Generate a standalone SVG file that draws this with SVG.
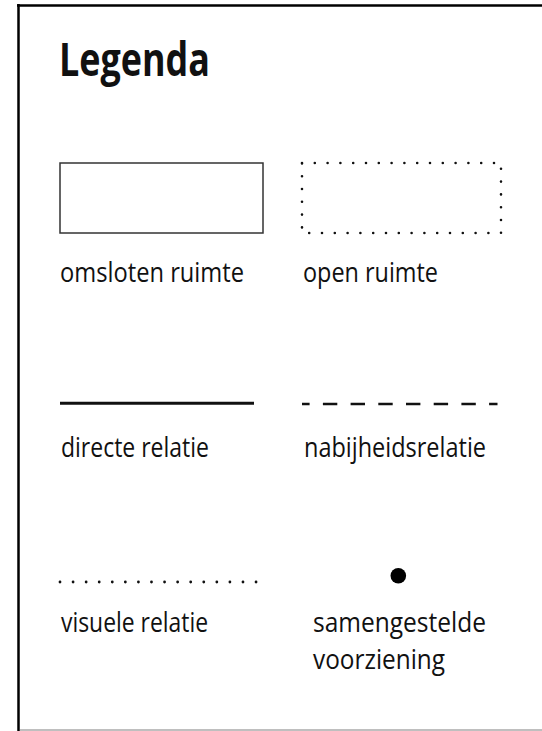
<svg xmlns="http://www.w3.org/2000/svg" width="542" height="731" viewBox="0 0 542 731">
<style>
text{font-family:"Open Sans","Noto Sans","Liberation Sans",sans-serif;fill:#111;}
.lbl{font-size:28px;}
.ttl{font-size:47px;font-weight:bold;}
</style>
<rect x="0" y="0" width="542" height="731" fill="#fff"/>
<g id="frame">
<line x1="18.5" y1="4" x2="18.5" y2="731" stroke="#000" stroke-width="2.5"/>
<line x1="17" y1="5.5" x2="542" y2="5.5" stroke="#000" stroke-width="2.5"/>
<line x1="20" y1="730" x2="542" y2="730" stroke="#aaa" stroke-width="1.5"/>
</g>
<g id="title"><text class="ttl" x="59" y="76" textLength="151" lengthAdjust="spacingAndGlyphs">Legenda</text></g>
<g id="omsloten">
<rect x="60" y="163" width="203" height="70" fill="none" stroke="#333" stroke-width="1.5"/>
<text class="lbl" x="60" y="282" textLength="184" lengthAdjust="spacingAndGlyphs">omsloten ruimte</text>
</g>
<g id="open">
<rect x="302" y="163" width="199" height="70" fill="none" stroke="#111" stroke-width="2.6" stroke-linecap="round" stroke-dasharray="0 12.8"/>
<text class="lbl" x="303" y="282" textLength="135" lengthAdjust="spacingAndGlyphs">open ruimte</text>
</g>
<g id="connectors">
<line id="direct" x1="60" y1="403.3" x2="254" y2="403.3" stroke="#111" stroke-width="3"/>
<line id="nabij" x1="302" y1="404" x2="497.5" y2="404" stroke="#111" stroke-width="2.7" stroke-dasharray="14.4 13.3" stroke-dashoffset="6.8"/>
<line id="visueel" x1="60" y1="582" x2="256.5" y2="582" stroke="#111" stroke-width="2.8" stroke-linecap="round" stroke-dasharray="0 13.07"/>
</g>
<g id="directe"><text class="lbl" x="61" y="457" textLength="148" lengthAdjust="spacingAndGlyphs">directe relatie</text></g>
<g id="nabijheid"><text class="lbl" x="304" y="457" textLength="182" lengthAdjust="spacingAndGlyphs">nabijheidsrelatie</text></g>
<g id="visuele"><text class="lbl" x="61" y="632" textLength="147" lengthAdjust="spacingAndGlyphs">visuele relatie</text></g>
<g id="samengesteld">
<circle cx="398.3" cy="575.7" r="7.8" fill="#000"/>
<text class="lbl" x="313" y="632" textLength="173" lengthAdjust="spacingAndGlyphs">samengestelde</text>
<text class="lbl" x="313" y="669" textLength="132" lengthAdjust="spacingAndGlyphs">voorziening</text>
</g>
</svg>
